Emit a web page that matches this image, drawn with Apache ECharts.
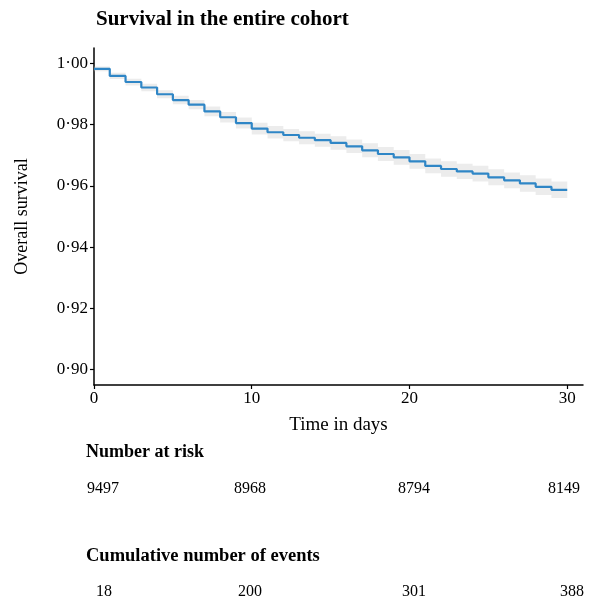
<!DOCTYPE html>
<html>
<head>
<meta charset="utf-8">
<script src="https://cdn.jsdelivr.net/npm/echarts@6/dist/echarts.min.js"></script>
<style>
  html, body { margin: 0; padding: 0; background: #fff; }
  #chart { width: 594px; height: 602px; }
</style>
</head>
<body>
<div id="chart"></div>
<script>
// days 0..30, Kaplan-Meier estimate (value held from that day on)
const days = [0,1,2,3,4,5,6,7,8,9,10,11,12,13,14,15,16,17,18,19,20,21,22,23,24,25,26,27,28,29,30];
const survival = [0.9982,0.9959,0.9939,0.9921,0.9899,0.9880,0.9865,0.9843,0.9824,0.9805,
                  0.9787,0.9775,0.9766,0.9757,0.9749,0.9740,0.9729,0.9716,0.9704,0.9693,
                  0.9680,0.9665,0.9655,0.9647,0.9640,0.9628,0.9618,0.9608,0.9597,0.9587,0.9587];
// 95% band
const lowerCI = [0.9974,0.9949,0.9928,0.9909,0.9886,0.9866,0.9850,0.9827,0.9807,0.9787,
                 0.9768,0.9755,0.9746,0.9736,0.9728,0.9718,0.9707,0.9693,0.9681,0.9669,
                 0.9656,0.9641,0.9630,0.9622,0.9614,0.9602,0.9592,0.9581,0.9570,0.9560,0.9560];
const upperCI = [0.9990,0.9969,0.9950,0.9933,0.9912,0.9894,0.9880,0.9859,0.9841,0.9823,
                 0.9806,0.9795,0.9786,0.9778,0.9770,0.9762,0.9751,0.9739,0.9727,0.9717,
                 0.9704,0.9689,0.9680,0.9672,0.9666,0.9654,0.9644,0.9635,0.9624,0.9614,0.9614];
const xTicks = [0, 10, 20, 30];
const yTicks = [0.90, 0.92, 0.94, 0.96, 0.98, 1.00];
const riskCounts = ['9497', '8968', '8794', '8149'];
const eventCounts = ['18', '200', '301', '388'];

const serif = '"Liberation Serif", "DejaVu Serif", serif';
const chart = echarts.init(document.getElementById('chart'));

const pairs = (ys) => days.map((d, i) => [d, ys[i]]);

// step-shaped ribbon between lowerCI and upperCI
function renderBand(params, api) {
  const pts = [];
  for (let i = 0; i < days.length - 1; i++) {
    pts.push(api.coord([days[i], upperCI[i]]));
    pts.push(api.coord([days[i + 1], upperCI[i]]));
  }
  for (let i = days.length - 2; i >= 0; i--) {
    pts.push(api.coord([days[i + 1], lowerCI[i]]));
    pts.push(api.coord([days[i], lowerCI[i]]));
  }
  return {
    type: 'polygon',
    shape: { points: pts },
    style: { fill: 'rgba(200,200,200,0.35)' },
    silent: true
  };
}

const riskX = [103, 250, 414, 564];
const eventX = [104, 250, 414, 572];
const tableText = [];
riskCounts.forEach((t, i) => tableText.push({
  type: 'text', x: riskX[i], y: 489,
  style: { text: t, font: '16px ' + serif, fill: '#000', align: 'center', verticalAlign: 'middle' }
}));
eventCounts.forEach((t, i) => tableText.push({
  type: 'text', x: eventX[i], y: 592,
  style: { text: t, font: '16px ' + serif, fill: '#000', align: 'center', verticalAlign: 'middle' }
}));

chart.setOption({
  animation: false,
  title: {
    text: 'Survival in the entire cohort',
    left: 96, top: 9, padding: 0,
    textStyle: { fontFamily: serif, fontWeight: 'bold', fontSize: 21, color: '#000' }
  },
  grid: { left: 94, top: 48, right: 11, bottom: 217 },
  xAxis: {
    type: 'value', min: 0, max: 31,
    name: 'Time in days', nameLocation: 'middle', nameGap: 31,
    nameTextStyle: { fontFamily: serif, fontSize: 19, color: '#000' },
    axisLine: { lineStyle: { color: '#000', width: 1.5 } },
    axisTick: { customValues: xTicks, length: 4, lineStyle: { color: '#000', width: 1.2 } },
    axisLabel: { customValues: xTicks, fontFamily: serif, fontSize: 17, color: '#000', margin: 5 },
    splitLine: { show: false }
  },
  yAxis: {
    type: 'value', min: 0.895, max: 1.005,
    name: 'Overall survival', nameLocation: 'middle', nameGap: 63,
    nameTextStyle: { fontFamily: serif, fontSize: 18, color: '#000' },
    axisLine: { show: true, lineStyle: { color: '#000', width: 1.5 } },
    axisTick: { show: true, customValues: yTicks, length: 4, lineStyle: { color: '#000', width: 1.2 } },
    axisLabel: {
      customValues: yTicks, fontFamily: serif, fontSize: 17, color: '#000', margin: 6,
      formatter: (v) => v.toFixed(2).replace('.', '\u00b7')
    },
    splitLine: { show: false }
  },
  series: [
    {
      type: 'custom', data: [0], renderItem: renderBand, silent: true
    },
    {
      type: 'line', step: 'end', data: pairs(survival),
      symbol: 'none', lineStyle: { color: '#2f86c6', width: 2.2 }
    }
  ],
  graphic: [
    {
      type: 'text', x: 86, y: 452,
      style: { text: 'Number at risk', font: 'bold 18px ' + serif, fill: '#000', verticalAlign: 'middle' }
    },
    {
      type: 'text', x: 86, y: 556,
      style: { text: 'Cumulative number of events', font: 'bold 18.5px ' + serif, fill: '#000', verticalAlign: 'middle' }
    }
  ].concat(tableText)
});
</script>
</body>
</html>
